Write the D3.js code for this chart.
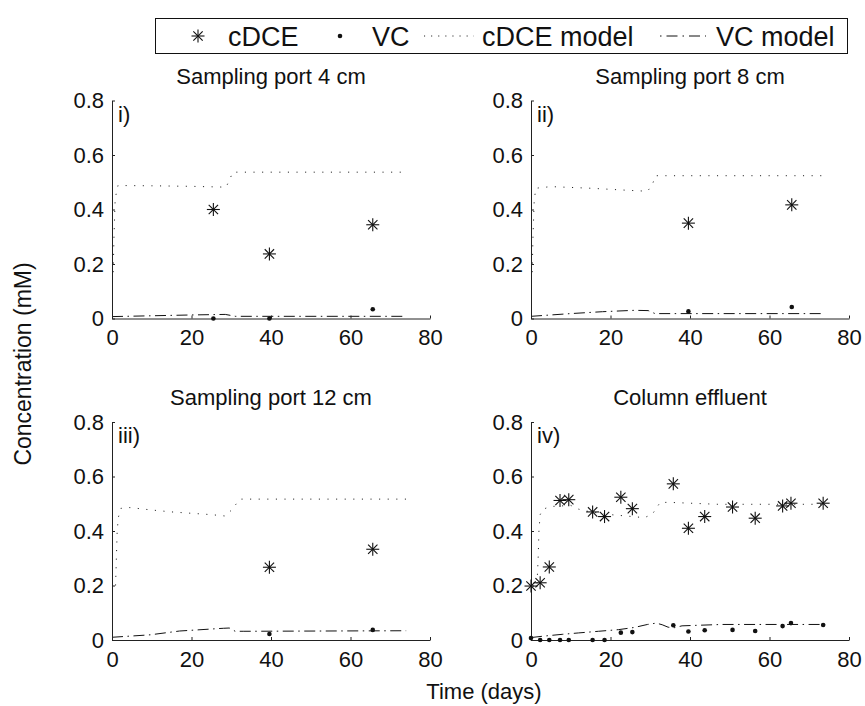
<!DOCTYPE html>
<html>
<head>
<meta charset="utf-8">
<script src="https://cdn.jsdelivr.net/npm/d3@7"></script>
<style>
  html, body { margin: 0; padding: 0; background: #fff; }
  svg { display: block; font-family: "Liberation Sans", Arial, Helvetica, sans-serif; }
</style>
</head>
<body>
<svg id="chart" width="865" height="706"></svg>
<script>
// ---------------- DATA ----------------
const panelTitles = ["Sampling port 4 cm", "Sampling port 8 cm", "Sampling port 12 cm", "Column effluent"];
const panelLabels = ["i)", "ii)", "iii)", "iv)"];
const xTicks = [0, 20, 40, 60, 80];
const yTicks = [0, 0.2, 0.4, 0.6, 0.8];
const legendLabels = ["cDCE", "VC", "cDCE model", "VC model"];

// measured points (days, mM)
const obsDays1 = [25.5, 39.6, 65.6];
const obsCDCE1 = [0.40, 0.237, 0.344];
const obsVC1   = [0.0, 0.0, 0.034];

const obsDays2 = [39.6, 65.6];
const obsCDCE2 = [0.35, 0.417];
const obsVC2   = [0.026, 0.042];

const obsDays3 = [39.6, 65.6];
const obsCDCE3 = [0.267, 0.333];
const obsVC3   = [0.022, 0.037];

const obsDays4 = [0, 2.3, 4.6, 7.3, 9.5, 15.5, 18.5, 22.6, 25.5, 35.8, 39.6, 43.7, 50.7, 56.4, 63.3, 65.4, 73.5];
const obsCDCE4 = [0.198, 0.21, 0.268, 0.512, 0.515, 0.47, 0.453, 0.524, 0.482, 0.573, 0.41, 0.453, 0.488, 0.447, 0.492, 0.502, 0.502];
const obsVC4   = [0.007, 0, 0, 0, 0, 0, 0, 0.027, 0.029, 0.054, 0.031, 0.036, 0.037, 0.033, 0.051, 0.062, 0.055];

// model curves
const cdceModelT1 = [0.3, 0.5, 0.8, 1.5, 10, 20, 28.7, 29.6, 30.4, 74];
const cdceModelC1 = [0.17, 0.30, 0.44, 0.488, 0.487, 0.485, 0.482, 0.51, 0.537, 0.537];
const vcModelT1 = [0, 10, 20, 28.5, 30, 31, 74];
const vcModelC1 = [0.007, 0.010, 0.013, 0.015, 0.011, 0.008, 0.008];

const cdceModelT2 = [0.3, 0.5, 0.8, 1.2, 5, 15, 25, 29.3, 30.5, 31.3, 74];
const cdceModelC2 = [0.17, 0.30, 0.43, 0.478, 0.484, 0.478, 0.47, 0.467, 0.49, 0.524, 0.524];
const vcModelT2 = [0, 10, 18, 26, 29.5, 31.2, 74];
const vcModelC2 = [0.008, 0.018, 0.025, 0.030, 0.029, 0.018, 0.018];

const cdceModelT3 = [0.9, 1.1, 1.3, 1.6, 2.2, 4.5, 10, 15, 20, 25, 28.5, 30, 32.2, 74];
const cdceModelC3 = [0.20, 0.30, 0.40, 0.45, 0.483, 0.486, 0.477, 0.47, 0.465, 0.46, 0.455, 0.476, 0.517, 0.517];
const vcModelT3 = [0, 9.6, 17, 28, 29.5, 31, 33, 74];
const vcModelC3 = [0.010, 0.019, 0.033, 0.043, 0.044, 0.032, 0.032, 0.034];

const cdceModelT4 = [0, 1.5, 1.8, 2.0, 2.3, 3, 5, 10, 12, 15, 20, 24, 28.5, 30.5, 32.5, 35, 47, 74];
const cdceModelC4 = [0.19, 0.20, 0.30, 0.40, 0.46, 0.48, 0.49, 0.494, 0.48, 0.47, 0.46, 0.455, 0.449, 0.461, 0.505, 0.505, 0.498, 0.498];
const vcModelT4 = [0, 3, 8, 12, 17, 22, 26, 29.3, 31.5, 33, 34.5, 36, 38, 42, 48, 74];
const vcModelC4 = [0.009, 0.014, 0.021, 0.026, 0.032, 0.038, 0.046, 0.057, 0.062, 0.056, 0.047, 0.045, 0.052, 0.054, 0.057, 0.057];

// ---------------- LAYOUT ----------------
const W = 318, H = 218;
const origins = [[112, 100.5], [531, 100.5], [112, 422], [531, 422]];
const FONT = 22;
const LFONT = 27;
const INK = "#111";

const svg = d3.select("#chart");
const x = d3.scaleLinear().domain([0, 80]).range([0, W]);
const y = d3.scaleLinear().domain([0, 0.8]).range([H, 0]);

const obsDays = [obsDays1, obsDays2, obsDays3, obsDays4];
const obsCDCE = [obsCDCE1, obsCDCE2, obsCDCE3, obsCDCE4];
const obsVC = [obsVC1, obsVC2, obsVC3, obsVC4];
const cT = [cdceModelT1, cdceModelT2, cdceModelT3, cdceModelT4];
const cC = [cdceModelC1, cdceModelC2, cdceModelC3, cdceModelC4];
const vT = [vcModelT1, vcModelT2, vcModelT3, vcModelT4];
const vC = [vcModelC1, vcModelC2, vcModelC3, vcModelC4];

const DOTTED = "1.1,7.5";
const DASHDOT = "11,4.5,1.5,4.5";

function asterisk(g, cx, cy, s) {
  const a = s * 0.72;
  const segs = [[-s, 0, s, 0], [0, -s, 0, s], [-a, -a, a, a], [-a, a, a, -a]];
  segs.forEach(p => g.append("line")
    .attr("x1", cx + p[0]).attr("y1", cy + p[1]).attr("x2", cx + p[2]).attr("y2", cy + p[3])
    .attr("stroke", INK).attr("stroke-width", 1.1));
}

const line = d3.line().x(d => x(d[0])).y(d => y(d[1]));

for (let i = 0; i < 4; i++) {
  const [ox, oy] = origins[i];
  const g = svg.append("g").attr("transform", `translate(${ox},${oy})`);

  // model lines
  g.append("path").datum(cT[i].map((t, k) => [t, cC[i][k]]))
    .attr("d", line).attr("fill", "none").attr("stroke", "#222")
    .attr("stroke-width", 1).attr("stroke-dasharray", DOTTED);
  g.append("path").datum(vT[i].map((t, k) => [t, vC[i][k]]))
    .attr("d", line).attr("fill", "none").attr("stroke", "#111")
    .attr("stroke-width", 1).attr("stroke-dasharray", DASHDOT);

  // axes
  const ya = g.append("g").call(d3.axisLeft(y).tickValues(yTicks).tickFormat(d3.format("~g"))
    .tickSizeInner(-3).tickSizeOuter(0).tickPadding(8));
  const xa = g.append("g").attr("transform", `translate(0,${H})`)
    .call(d3.axisBottom(x).tickValues(xTicks).tickFormat(d3.format("~g"))
    .tickSizeInner(-3).tickSizeOuter(0).tickPadding(11));
  [ya, xa].forEach(a => {
    a.select(".domain").attr("stroke", "#222");
    a.selectAll(".tick line").attr("stroke", "#222");
    a.selectAll("text").attr("font-size", FONT).attr("fill", INK)
      .attr("font-family", "Liberation Sans, Arial, sans-serif");
  });

  // observed VC points
  obsDays[i].forEach((t, k) => {
    g.append("circle").attr("cx", x(t)).attr("cy", y(obsVC[i][k])).attr("r", 2.3).attr("fill", INK);
  });
  // observed cDCE points
  obsDays[i].forEach((t, k) => asterisk(g, x(t), y(obsCDCE[i][k]), 6.5));

  // title & label
  g.append("text").attr("x", W / 2).attr("y", -17).attr("text-anchor", "middle")
    .attr("font-size", FONT).attr("fill", INK).text(panelTitles[i]);
  g.append("text").attr("x", 6).attr("y", 21).attr("font-size", FONT).attr("fill", INK).text(panelLabels[i]);
}

// axis titles
svg.append("text").attr("transform", "translate(31,364) rotate(-90)").attr("text-anchor", "middle")
  .attr("font-size", 23).attr("fill", INK).text("Concentration (mM)");
svg.append("text").attr("x", 484).attr("y", 699).attr("text-anchor", "middle")
  .attr("font-size", FONT).attr("fill", INK).text("Time (days)");

// legend
const lg = svg.append("g");
lg.append("rect").attr("x", 155.5).attr("y", 18.5).attr("width", 692).attr("height", 35)
  .attr("fill", "#fff").attr("stroke", INK).attr("stroke-width", 1);
const ly = 36;
const tdy = 10;
asterisk(lg, 198, ly, 6.5);
lg.append("text").attr("x", 228).attr("y", ly + tdy).attr("font-size", LFONT).attr("fill", INK).text(legendLabels[0]);
lg.append("circle").attr("cx", 340).attr("cy", ly).attr("r", 2.3).attr("fill", INK);
lg.append("text").attr("x", 372).attr("y", ly + tdy).attr("font-size", LFONT).attr("fill", INK).text(legendLabels[1]);
lg.append("line").attr("x1", 424).attr("x2", 474).attr("y1", ly).attr("y2", ly)
  .attr("stroke", "#222").attr("stroke-dasharray", "1.1,6");
lg.append("text").attr("x", 482).attr("y", ly + tdy).attr("font-size", LFONT).attr("fill", INK).text(legendLabels[2]);
lg.append("line").attr("x1", 660).attr("x2", 706).attr("y1", ly).attr("y2", ly)
  .attr("stroke", INK).attr("stroke-dasharray", "1.5,5,11,5");
lg.append("text").attr("x", 716).attr("y", ly + tdy).attr("font-size", LFONT).attr("fill", INK).text(legendLabels[3]);
</script>
</body>
</html>
